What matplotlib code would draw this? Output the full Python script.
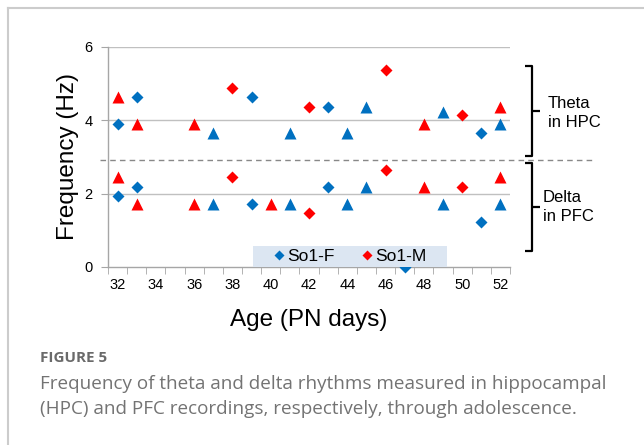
import matplotlib.pyplot as plt
from matplotlib.lines import Line2D
from matplotlib.patches import Rectangle

plt.rcParams['font.family'] = ['Liberation Sans', 'DejaVu Sans']

# So1-F (blue diamonds)
f_theta_age = [32, 33, 39, 43, 51]
f_theta_hz = [3.9, 4.64, 4.64, 4.37, 3.65]
f_delta_age = [32, 33, 39, 43, 47, 51]
f_delta_hz = [1.95, 2.19, 1.71, 2.19, 0.0, 1.23]

# So1-M (red diamonds)
m_theta_age = [38, 42, 46, 50]
m_theta_hz = [4.88, 4.37, 5.36, 4.15]
m_delta_age = [38, 42, 46, 50]
m_delta_hz = [2.45, 1.47, 2.65, 2.19]

# other animals (triangles, not in legend)
bt_theta_age = [37, 41, 44, 45, 49, 52]
bt_theta_hz = [3.65, 3.65, 3.65, 4.37, 4.24, 3.9]
bt_delta_age = [37, 41, 44, 45, 49, 52]
bt_delta_hz = [1.71, 1.71, 1.71, 2.19, 1.71, 1.71]

rt_theta_age = [32, 33, 36, 48, 52]
rt_theta_hz = [4.64, 3.9, 3.9, 3.9, 4.37]
rt_delta_age = [32, 33, 36, 40, 48, 52]
rt_delta_hz = [2.45, 1.71, 1.71, 1.71, 2.19, 2.45]

x_labels = list(range(32, 53, 2))
y_ticks = [0, 2, 4, 6]
boundary = 2.92

blue = '#0070C0'
red = '#FF0000'

fig = plt.figure(figsize=(6.44, 4.45), dpi=100)

# card border
fig.add_artist(Line2D([8 / 644, 1.0], [1 - 8 / 445, 1 - 8 / 445], color='#cccccc', lw=1.5))
fig.add_artist(Line2D([8 / 644, 8 / 644], [0, 1 - 8 / 445], color='#cccccc', lw=1.5))

ax = fig.add_axes([108 / 644, 1 - 267 / 445, 402 / 644, 220 / 445])
ax.set_xlim(31.5, 52.5)
ax.set_ylim(0, 6)

for y in [2, 4, 6]:
    ax.axhline(y, color='#c0c0c0', lw=1, zorder=1)
ax.axhline(boundary, xmin=-0.02, xmax=1.207, color='#888888', lw=1,
           ls=(0, (4, 3)), clip_on=False, zorder=1)

mk = dict(ls='none', clip_on=False, zorder=3, mec='none')
ax.plot(bt_theta_age, bt_theta_hz, marker='^', ms=8, color=blue, **mk)
ax.plot(bt_delta_age, bt_delta_hz, marker='^', ms=8, color=blue, **mk)
ax.plot(rt_theta_age, rt_theta_hz, marker='^', ms=8, color=red, **mk)
ax.plot(rt_delta_age, rt_delta_hz, marker='^', ms=8, color=red, **mk)
h_f, = ax.plot(f_theta_age, f_theta_hz, marker='D', ms=6, color=blue, label='So1-F', **mk)
ax.plot(f_delta_age, f_delta_hz, marker='D', ms=6, color=blue, **mk)
h_m, = ax.plot(m_theta_age, m_theta_hz, marker='D', ms=6, color=red, label='So1-M', **mk)
ax.plot(m_delta_age, m_delta_hz, marker='D', ms=6, color=red, **mk)

for s in ['top', 'right']:
    ax.spines[s].set_visible(False)
for s in ['left', 'bottom']:
    ax.spines[s].set_color('#a6a6a6')
    ax.spines[s].set_linewidth(1)

ax.set_xticks(x_labels)
ax.set_xticks([v + 0.5 for v in range(31, 53)], minor=True)
ax.tick_params(axis='x', which='major', length=0, labelsize=10.5, pad=8)
ax.tick_params(axis='x', which='minor', length=5, color='#a6a6a6')
ax.set_yticks(y_ticks)
ax.tick_params(axis='y', length=5, color='#a6a6a6', labelsize=10.5, pad=6)

ax.set_xlabel('Age (PN days)', fontsize=17.5, labelpad=12)
ax.set_ylabel('Frequency (Hz)', fontsize=17.5, labelpad=4)

# legend with light-blue band behind it
ax.add_patch(Rectangle((145 / 402, 0.0), 194 / 402, 21 / 220, transform=ax.transAxes,
                       facecolor='#dce6f2', edgecolor='none', clip_on=False, zorder=4))
leg = ax.legend(handles=[h_f, h_m], ncol=2, loc='center',
                bbox_to_anchor=(242 / 402, 10.5 / 220),
                fontsize=12.5, frameon=False,
                handlelength=0.6, handletextpad=0.15, columnspacing=1.6,
                borderpad=0, borderaxespad=0, markerscale=0.9)
leg.set_zorder(5)


# right-hand braces
def brace(x, y0, y1):
    ym = (y0 + y1) / 2
    kw = dict(color='black', lw=1.6, solid_capstyle='butt')
    fig.add_artist(Line2D([(x - 7) / 644, x / 644, x / 644, (x - 7) / 644],
                          [1 - y0 / 445, 1 - y0 / 445, 1 - y1 / 445, 1 - y1 / 445], **kw))
    fig.add_artist(Line2D([x / 644, (x + 8) / 644], [1 - ym / 445, 1 - ym / 445], **kw))


brace(532, 66, 156)
brace(532, 163, 251)
fig.text(548 / 644, 1 - 113 / 445, 'Theta\nin HPC', fontsize=12, va='center',
         ha='left', linespacing=1.35)
fig.text(543 / 644, 1 - 207 / 445, 'Delta\nin PFC', fontsize=12, va='center',
         ha='left', linespacing=1.35)

# caption
cap = ['Open Sans', 'DejaVu Sans']
fig.text(40 / 644, 1 - 358 / 445, 'FIGURE 5', fontsize=11, color='#6a6a6a',
         family=cap, fontweight='bold', va='center')
fig.text(40 / 644, 1 - 384 / 445,
         'Frequency of theta and delta rhythms measured in hippocampal',
         fontsize=13.6, color='#737373', family=cap, va='center')
fig.text(40 / 644, 1 - 409 / 445,
         '(HPC) and PFC recordings, respectively, through adolescence.',
         fontsize=13.6, color='#737373', family=cap, va='center')

fig.savefig('out.png', dpi=100)
